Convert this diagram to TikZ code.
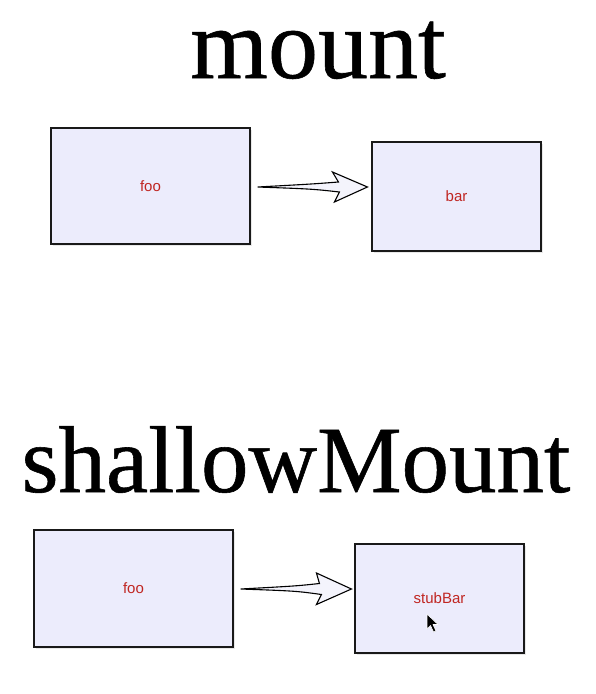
\documentclass[tikz,border=0pt]{standalone}
\usepackage{fontspec}
\setmainfont{Liberation Serif}
\newfontfamily\titlefont[FakeBold=0.6]{Liberation Serif}
\newfontfamily\lblfont{Liberation Sans}
\usetikzlibrary{calc,shadows}
\definecolor{boxfill}{RGB}{236,236,252}
\definecolor{lblred}{RGB}{192,38,34}
\definecolor{arrfill}{RGB}{244,244,252}
\tikzset{
  box/.style={draw=black!90, line width=1.1pt, fill=boxfill, inner sep=0pt,
    font=\lblfont\fontsize{15}{17}\selectfont, text=lblred,
    drop shadow={shadow xshift=1.5pt, shadow yshift=-1.8pt, opacity=0.18}},
  title/.style={anchor=base, inner sep=0pt, text=black},
  fatarr/.style={draw=black, line width=1.1pt, fill=arrfill, line join=miter},
  cursor/.style={fill=black, draw=white, line width=0.6pt, line join=round}
}
\begin{document}
\begin{tikzpicture}[x=1pt, y=-1pt]
\useasboundingbox (0,0) rectangle (595,694);
% titles
\node[title, font=\titlefont\fontsize{100}{110}\selectfont] (t1) at (318,78) {mount};
\node[title, font=\titlefont\fontsize{95}{105}\selectfont] (t2) at (296,492) {shallowMount};
% boxes
\node[box, minimum width=199pt, minimum height=116pt] (foo1) at (150.5,186) {foo};
\node[box, minimum width=169pt, minimum height=109pt] (bar1) at (456.5,196.5) {bar};
\node[box, minimum width=199pt, minimum height=117pt] (foo2) at (133.5,588.5) {foo};
\node[box, minimum width=169pt, minimum height=109pt] (stub) at (439.5,598.5) {stubBar};
% arrow 1
\coordinate (a1s) at ($(foo1.east)+(7pt,-1pt)$);
\coordinate (b1w) at ($(bar1.west)+(-4pt,0pt)$);
\coordinate (a1e) at (b1w |- a1s);
\filldraw[fatarr] (a1s)
  .. controls ($(a1s)!0.5!(a1e)+(0pt,3pt)$) .. ($(a1e)+(-29pt,5pt)$)
  -- ($(a1e)+(-35pt,15pt)$) -- (a1e) -- ($(a1e)+(-33pt,-15pt)$)
  -- ($(a1e)+(-28pt,-5pt)$)
  .. controls ($(a1s)!0.5!(a1e)+(0pt,-2pt)$) .. cycle;
% arrow 2
\coordinate (a2s) at ($(foo2.east)+(7pt,-0.5pt)$);
\coordinate (b2w) at ($(stub.west)+(-3pt,0pt)$);
\coordinate (a2e) at (b2w |- a2s);
\filldraw[fatarr] (a2s)
  .. controls ($(a2s)!0.5!(a2e)+(0pt,3pt)$) .. ($(a2e)+(-32pt,5.5pt)$)
  -- ($(a2e)+(-35pt,16pt)$) -- (a2e) -- ($(a2e)+(-35pt,-15.5pt)$)
  -- ($(a2e)+(-30pt,-5.5pt)$)
  .. controls ($(a2s)!0.5!(a2e)+(0pt,-2pt)$) .. cycle;
% mouse cursor
\filldraw[cursor] (427,614) -- (427,629) -- (430.5,625.5) -- (433.5,632) -- (436,631) -- (433,624.5) -- (438,624.5) -- cycle;
\end{tikzpicture}
\end{document}
